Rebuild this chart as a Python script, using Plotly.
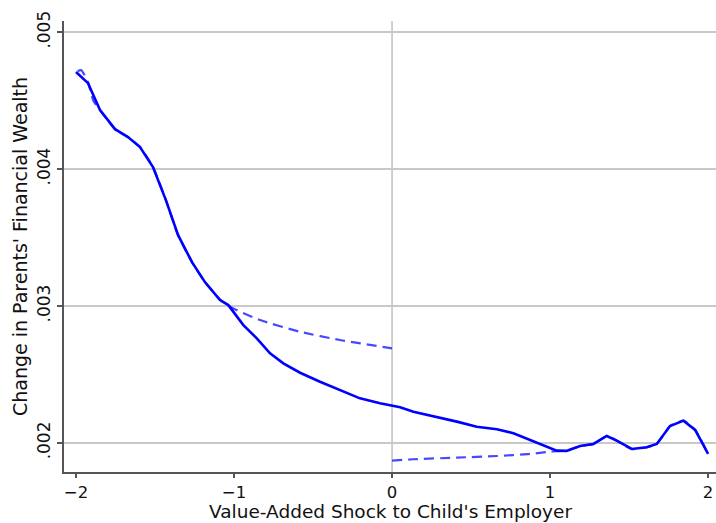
import plotly.graph_objects as go

# Overall smoothed relationship (solid)
solid_x = [-2.00, -1.924, -1.848, -1.753, -1.671, -1.595, -1.513, -1.43, -1.354, -1.266,
           -1.184, -1.089, -1.036, -0.941, -0.856, -0.772, -0.688, -0.582, -0.456, -0.329,
           -0.203, -0.076, 0.051, 0.135, 0.283, 0.41, 0.536, 0.663, 0.768, 0.873,
           0.979, 1.042, 1.105, 1.19, 1.274, 1.359, 1.422, 1.517, 1.612, 1.675,
           1.759, 1.844, 1.918, 2.0]
solid_y = [0.004710, 0.004628, 0.004431, 0.004292, 0.004234, 0.004161, 0.004015, 0.003770, 0.003518, 0.003321,
           0.003175, 0.003044, 0.003007, 0.002861, 0.002764, 0.002655, 0.002582, 0.002513, 0.002447, 0.002387,
           0.002326, 0.002290, 0.002261, 0.002228, 0.002192, 0.002156, 0.002119, 0.002100, 0.002071, 0.002022,
           0.001973, 0.001944, 0.001942, 0.001978, 0.001993, 0.002051, 0.002017, 0.001956, 0.001969, 0.001993,
           0.002124, 0.002163, 0.002095, 0.001920]

# Separate fits on each side of zero (dashed)
neg_x = [-1.99, -1.968, -1.924, -1.89, -1.848, -1.753, -1.671, -1.595, -1.513, -1.43, -1.354,
         -1.266, -1.184, -1.089, -1.025, -0.835, -0.582, -0.329, 0.0]
neg_y = [0.004715, 0.004723, 0.004635, 0.004500, 0.004431, 0.004292, 0.004234, 0.004161, 0.004015, 0.003770, 0.003518,
         0.003321, 0.003175, 0.003050, 0.002995, 0.002898, 0.002812, 0.002752, 0.002691]
pos_x = [0.0, 0.133, 0.41, 0.663, 0.873, 1.0, 1.105, 1.19, 1.274, 1.359, 1.422,
         1.517, 1.612, 1.675, 1.759, 1.81, 1.844, 1.918, 2.0]
pos_y = [0.001871, 0.001881, 0.001893, 0.001905, 0.001920, 0.001937, 0.001945, 0.001978, 0.001993, 0.002051, 0.002017,
         0.001956, 0.001969, 0.001993, 0.002124, 0.002150, 0.002163, 0.002095, 0.001920]

x_ticks = [-2, -1, 0, 1, 2]
y_ticks = [0.002, 0.003, 0.004, 0.005]
y_tick_text = [".002", ".003", ".004", ".005"]

fig = go.Figure()
for xs, ys in ((neg_x, neg_y), (pos_x, pos_y)):
    fig.add_trace(go.Scatter(x=xs, y=ys, mode="lines", line_shape="spline",
                             line=dict(color="rgba(40,40,255,0.85)", width=2.2, dash="10px,6px",
                                       smoothing=0.6),
                             hoverinfo="skip", showlegend=False))
fig.add_trace(go.Scatter(x=solid_x, y=solid_y, mode="lines",
                         line=dict(color="#0000ff", width=2.6),
                         showlegend=False))

fig.add_vline(x=0, line=dict(color="#c0c0c0", width=1.5), layer="below")

# x-axis title placed as an annotation along the bottom edge
fig.add_annotation(text="Value-Added Shock to Child's Employer", xref="paper", yref="paper",
                   x=0.5, y=0, xanchor="center", yanchor="bottom", yshift=-51,
                   borderpad=0, showarrow=False, font=dict(size=18.5))

font = "DejaVu Sans, sans-serif"
fig.update_layout(
    width=716, height=523,
    margin=dict(l=64, r=0, t=21, b=51),
    paper_bgcolor="white", plot_bgcolor="white",
    font=dict(family=font, size=17, color="#111111"),
    xaxis=dict(range=[-2.076, 2.05], tickvals=x_ticks, showgrid=False, zeroline=False,
               showline=True, linecolor="#555555", linewidth=1.5,
               ticks="outside", ticklen=4, tickcolor="#555555", tickwidth=1.5,
               tickfont=dict(size=16.5)),
    yaxis=dict(range=[0.001788, 0.005082], tickvals=y_ticks, ticktext=y_tick_text,
               tickangle=-90, showgrid=True, gridcolor="#c8c8c8", gridwidth=1.5, zeroline=False,
               showline=True, linecolor="#555555", linewidth=1.5,
               ticks="outside", ticklen=5, tickcolor="#555555", tickwidth=1.5,
               tickfont=dict(size=17),
               title=dict(text="Change in Parents' Financial Wealth", font=dict(size=19), standoff=2)),
)

fig.write_html("out.html")
